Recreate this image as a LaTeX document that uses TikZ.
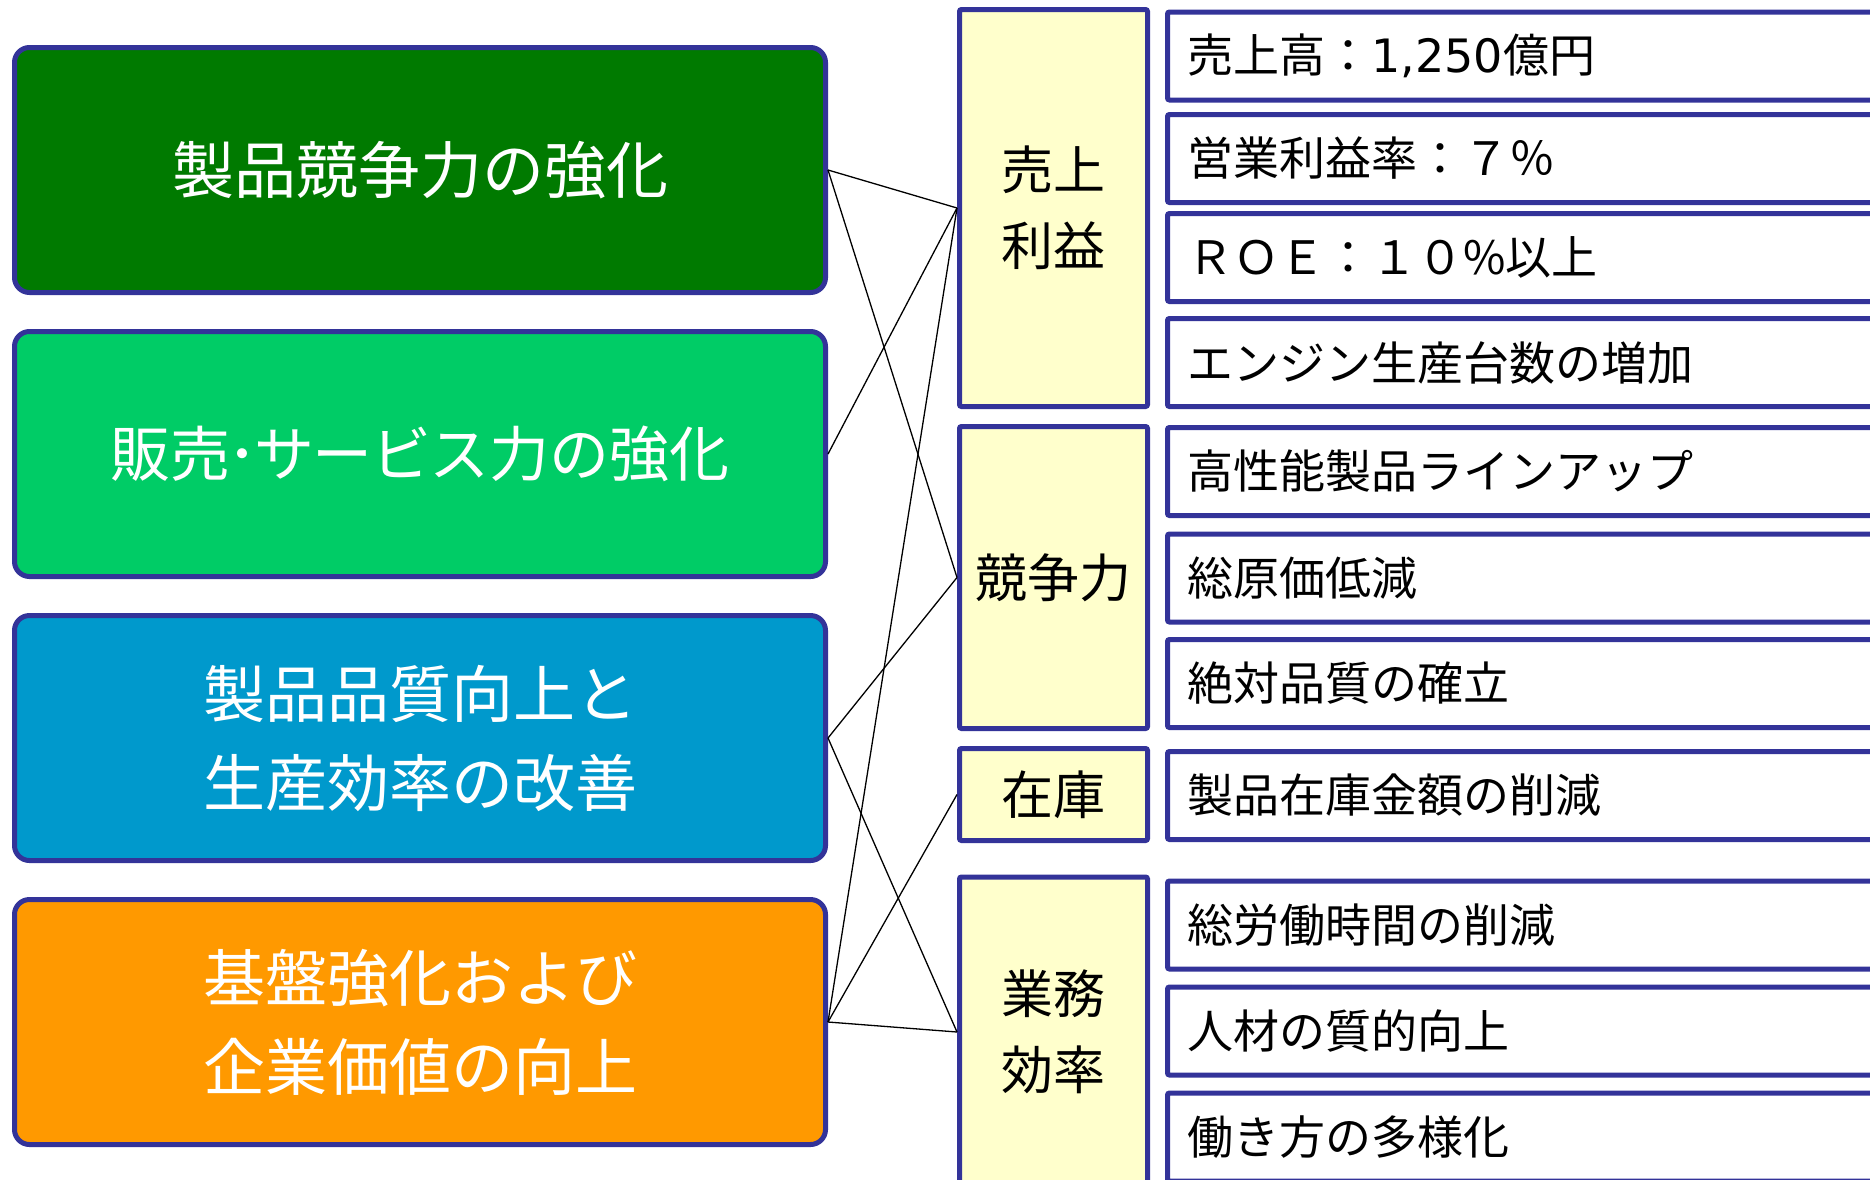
\documentclass[tikz,border=0pt]{standalone}
\usepackage{fontspec}
\setmainfont{Noto Sans CJK JP}
\newfontfamily\latfont{DejaVu Sans}
\definecolor{bord}{RGB}{51,51,153}
\definecolor{cgreen}{RGB}{0,122,0}
\definecolor{clgreen}{RGB}{0,204,102}
\definecolor{cblue}{RGB}{0,153,204}
\definecolor{corange}{RGB}{255,153,0}
\definecolor{cyel}{RGB}{255,255,204}
\begin{document}
\begin{tikzpicture}[x=1pt,y=-1pt,
  leftbox/.style={draw=bord,line width=5pt,rounded corners=15pt,minimum width=811pt,minimum height=245pt,
     text=white,align=center,font=\fontsize{62}{89}\selectfont,inner sep=0pt},
  midbox/.style={draw=bord,fill=cyel,line width=5pt,rounded corners=2pt,minimum width=188pt,
     align=center,font=\fontsize{52}{76}\selectfont,inner sep=0pt},
  rightbox/.style={draw=bord,fill=white,line width=5pt,rounded corners=2pt,anchor=west,minimum height=88pt,
     text width=700pt,align=left,inner xsep=20pt,inner ysep=0pt,font=\fontsize{46}{55}\selectfont},
  link/.style={draw=black,line width=1.3pt}]
\useasboundingbox (0,0) rectangle (1870,1179);
\fill[white] (0,0) rectangle (1870,1179);
% left boxes
\node[leftbox,fill=cgreen]  (A) at (420,170) {製品競争力の強化};
\node[leftbox,fill=clgreen,font=\fontsize{60}{89}\selectfont] (B) at (420,454) {販売\kern-0.05em ･\kern-0.05em サ\kern-0.03em ー\kern-0.03em ビ\kern-0.03em ス力の強化};
\node[leftbox,fill=cblue]   (C) at (420,738) {製品品質向上と\\生産効率の改善};
\node[leftbox,fill=corange] (D) at (420,1022) {基盤強化および\\企業価値の向上};
% middle boxes
\node[midbox,minimum height=397pt] (M1) at (1053.5,208) {売上\\利益};
\node[midbox,minimum height=302pt] (M2) at (1053.5,577.5) {競争力};
\node[midbox,minimum height=92pt]  (M3) at (1053.5,794.5) {在庫};
\node[midbox,minimum height=310pt] (M4) at (1053.5,1032) {業務\\効率};
% right boxes
\node[rightbox] (R1)  at (1165,56)     {売上高：{\latfont 1,250}億円};
\node[rightbox] (R2)  at (1165,158.5)  {営業利益率：７％};
\node[rightbox] (R3)  at (1165,257.5)  {ＲＯＥ：１０\%以上};
\node[rightbox] (R4)  at (1165,362.5)  {エンジン生産台数の増加};
\node[rightbox] (R5)  at (1165,471.5)  {高性能製品ラインアップ};
\node[rightbox] (R6)  at (1165,578)    {総原価低減};
\node[rightbox] (R7)  at (1165,683.5)  {絶対品質の確立};
\node[rightbox] (R8)  at (1165,795.5)  {製品在庫金額の削減};
\node[rightbox] (R9)  at (1165,925)    {総労働時間の削減};
\node[rightbox] (R10) at (1165,1031)   {人材の質的向上};
\node[rightbox] (R11) at (1165,1137)   {働き方の多様化};
% connectors
\draw[link] (A.east) -- (M1.west);
\draw[link] (A.east) -- (M2.west);
\draw[link] (B.east) -- (M1.west);
\draw[link] (C.east) -- (M2.west);
\draw[link] (C.east) -- (M4.west);
\draw[link] (D.east) -- (M1.west);
\draw[link] (D.east) -- (M3.west);
\draw[link] (D.east) -- (M4.west);
\end{tikzpicture}
\end{document}
